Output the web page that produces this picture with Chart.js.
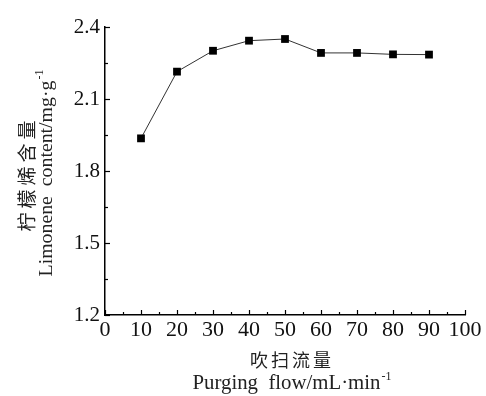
<!DOCTYPE html>
<html>
<head>
<meta charset="utf-8">
<script src="https://cdn.jsdelivr.net/npm/chart.js@4/dist/chart.umd.min.js"></script>
<style>
  html, body { margin: 0; padding: 0; background: #fff; }
  #wrap { width: 486px; height: 396px; position: relative; }
</style>
</head>
<body>
<div id="wrap"><canvas id="c" width="486" height="396"></canvas></div>
<script>
const flows = [10, 20, 30, 40, 50, 60, 70, 80, 90];
const content = [1.936, 2.214, 2.301, 2.343, 2.350, 2.292, 2.292, 2.286, 2.285];
const xTickValues = [0, 10, 20, 30, 40, 50, 60, 70, 80, 90, 100];
const yTickValues = [1.2, 1.5, 1.8, 2.1, 2.4];
const xTitleZh = '吹扫流量';
const xTitleEn = 'Purging  flow/mL·min';
const yTitleZh = '柠檬烯含量';
const yTitleEn = 'Limonene  content/mg·g';
const unitSup = '-1';

const SERIF = '"Liberation Serif", "Times New Roman", serif';
const CJK = '"Noto Sans CJK SC", sans-serif';

const inwardTicks = {
  id: 'inwardTicks',
  afterDraw(chart) {
    const ctx = chart.ctx;
    const xs = chart.scales.x, ys = chart.scales.y;
    const a = chart.chartArea;
    ctx.save();
    ctx.strokeStyle = '#000';
    ctx.lineWidth = 1.2;
    for (let v = 0; v <= 100; v += 5) {
      const px = Math.round(xs.getPixelForValue(v)) + 0.5;
      const len = (v % 10 === 0) ? 5 : 3;
      ctx.beginPath();
      ctx.moveTo(px, a.bottom);
      ctx.lineTo(px, a.bottom - len);
      ctx.stroke();
    }
    for (let i = 0; i <= 8; i++) {
      const v = 1.2 + i * 0.15;
      const py = Math.round(ys.getPixelForValue(v)) + 0.5;
      const len = (i % 2 === 0) ? 5 : 3;
      ctx.beginPath();
      ctx.moveTo(a.left, py);
      ctx.lineTo(a.left + len, py);
      ctx.stroke();
    }
    ctx.restore();
  }
};

// draw text + superscript, font size chosen so the whole string spans targetW, centered at (cx, cy)
function drawWithSup(ctx, text, sup, cx, cy, targetW) {
  ctx.letterSpacing = '0px';
  ctx.font = '20px ' + SERIF;
  const base = ctx.measureText(text).width;
  ctx.font = '12px ' + SERIF;
  const supW = ctx.measureText(sup).width;
  const size = Math.min(22, 20 * (targetW - supW - 1) / base);
  ctx.font = size + 'px ' + SERIF;
  const w1 = ctx.measureText(text).width;
  const total = w1 + supW + 1;
  const x0 = cx - total / 2;
  ctx.textAlign = 'left';
  ctx.textBaseline = 'middle';
  ctx.fillText(text, x0, cy);
  ctx.font = '12px ' + SERIF;
  ctx.fillText(sup, x0 + w1 + 1, cy - 7);
}

const titles = {
  id: 'titles',
  afterDraw(chart) {
    const ctx = chart.ctx;
    ctx.save();
    ctx.fillStyle = '#222';
    ctx.textAlign = 'center';
    ctx.textBaseline = 'middle';
    ctx.font = '18px ' + CJK;
    ctx.letterSpacing = '3px';
    ctx.fillText(xTitleZh, 292, 360);
    ctx.letterSpacing = '0px';
    drawWithSup(ctx, xTitleEn, unitSup, 292, 384, 199);
    ctx.save();
    ctx.translate(27, 176);
    ctx.rotate(-Math.PI / 2);
    ctx.textAlign = 'center';
    ctx.font = '19px ' + CJK;
    ctx.letterSpacing = '4px';
    ctx.fillText(yTitleZh, 2, 0);
    ctx.letterSpacing = '0px';
    ctx.restore();
    ctx.save();
    ctx.translate(47, 173);
    ctx.rotate(-Math.PI / 2);
    drawWithSup(ctx, yTitleEn, unitSup, 0, 0, 207);
    ctx.restore();
    ctx.restore();
  }
};

const whiteBg = {
  id: 'whiteBg',
  beforeDraw(chart) {
    const ctx = chart.ctx;
    ctx.save();
    ctx.fillStyle = '#fff';
    ctx.fillRect(0, 0, chart.width, chart.height);
    ctx.restore();
  }
};

new Chart(document.getElementById('c'), {
  type: 'line',
  data: {
    datasets: [{
      data: flows.map((f, i) => ({ x: f, y: content[i] })),
      borderColor: '#333',
      borderWidth: 1,
      backgroundColor: '#000',
      pointStyle: 'rect',
      pointRadius: 5.5,
      pointBackgroundColor: '#000',
      pointBorderColor: '#000',
      pointBorderWidth: 0,
      tension: 0,
      fill: false
    }]
  },
  options: {
    responsive: false,
    animation: false,
    devicePixelRatio: 1,
    layout: { padding: { top: 27, right: 21, left: 0, bottom: 0 } },
    plugins: { legend: { display: false }, tooltip: { enabled: false } },
    scales: {
      x: {
        type: 'linear',
        min: 0, max: 100,
        afterFit(s) { s.height = 81; },
        afterBuildTicks(s) { s.ticks = xTickValues.map(v => ({ value: v })); },
        grid: { display: true, drawOnChartArea: false, drawTicks: false },
        border: { display: true, color: '#000', width: 1.5 },
        ticks: {
          color: '#111',
          padding: 2,
          maxRotation: 0,
          minRotation: 0,
          autoSkip: false,
          font: { family: SERIF, size: 22 },
          callback: v => String(v)
        }
      },
      y: {
        type: 'linear',
        min: 1.2, max: 2.4,
        afterFit(s) { s.width = 105; },
        afterBuildTicks(s) { s.ticks = yTickValues.map(v => ({ value: v })); },
        grid: { display: true, drawOnChartArea: false, drawTicks: false },
        border: { display: true, color: '#000', width: 1.5 },
        ticks: {
          color: '#111',
          padding: 5,
          font: { family: SERIF, size: 21 },
          callback: v => Number(v).toFixed(1)
        }
      }
    }
  },
  plugins: [whiteBg, inwardTicks, titles]
});
</script>
</body>
</html>
